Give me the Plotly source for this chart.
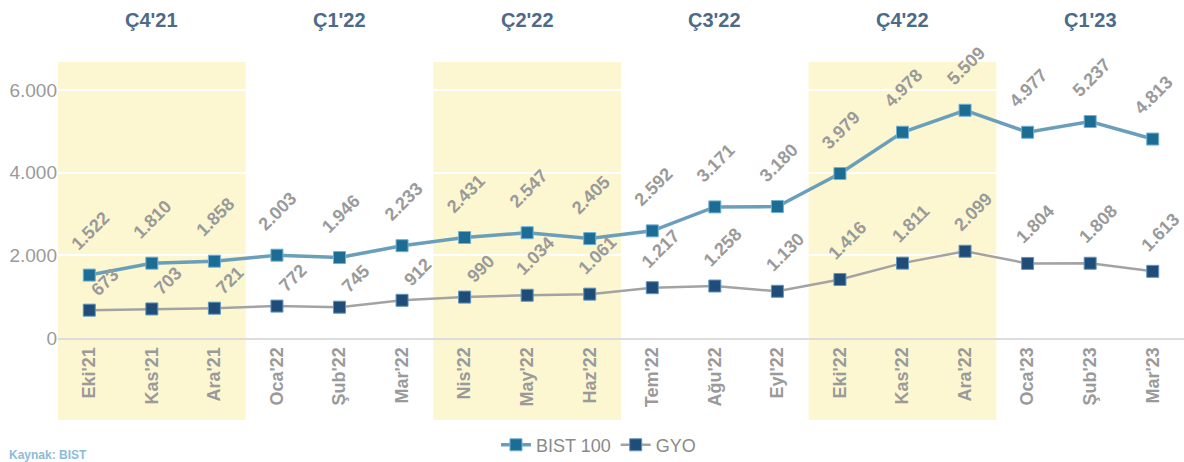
import plotly.graph_objects as go

months = ["Eki'21", "Kas'21", "Ara'21", "Oca'22", "Şub'22", "Mar'22", "Nis'22", "May'22", "Haz'22",
          "Tem'22", "Ağu'22", "Eyl'22", "Eki'22", "Kas'22", "Ara'22", "Oca'23", "Şub'23", "Mar'23"]
bist100 = [1522, 1810, 1858, 2003, 1946, 2233, 2431, 2547, 2405, 2592, 3171, 3180, 3979, 4978, 5509, 4977, 5237, 4813]
gyo = [673, 703, 721, 772, 745, 912, 990, 1034, 1061, 1217, 1258, 1130, 1416, 1811, 2099, 1804, 1808, 1613]
quarters = ["Ç4'21", "Ç1'22", "Ç2'22", "Ç3'22", "Ç4'22", "Ç1'23"]
shaded_quarters = [0, 2, 4]
y_ticks = [0, 2000, 4000, 6000]

FONT = "Arial, Liberation Sans, sans-serif"
GRAY = "#9a9a9a"


def tr(v):
    return f"{v:,}".replace(",", ".")


fig = go.Figure()

fig.add_trace(go.Scatter(
    x=months, y=bist100, name="BIST 100", mode="lines+markers",
    line=dict(color="#6a9fbb", width=3.5),
    marker=dict(symbol="square", size=12, color="#1c6c94", line=dict(color="#6fb0d6", width=1)),
))
fig.add_trace(go.Scatter(
    x=months, y=gyo, name="GYO", mode="lines+markers",
    line=dict(color="#a3a3a3", width=2.5),
    marker=dict(symbol="square", size=12, color="#1f4d78", line=dict(color="#5f95c0", width=1)),
))

shapes = []
for q in shaded_quarters:
    shapes.append(dict(type="rect", xref="x", yref="paper", x0=q * 3 - 0.5, x1=q * 3 + 2.5,
                       y0=-0.297, y1=1.0, fillcolor="#fcf7d0", line=dict(width=0), layer="below"))

label_font = dict(family=FONT, size=18, color=GRAY, weight="bold")
annotations = []
for i, v in enumerate(bist100):
    annotations.append(dict(x=months[i], y=v, xref="x", yref="y", text=tr(v), showarrow=False,
                            textangle=-45, xanchor="center", yanchor="middle", xshift=1, yshift=44,
                            font=label_font))
for i, v in enumerate(gyo):
    short = v < 1000
    annotations.append(dict(x=months[i], y=v, xref="x", yref="y", text=tr(v), showarrow=False,
                            textangle=-45, xanchor="center", yanchor="middle",
                            xshift=16 if short else 8, yshift=28 if short else 39,
                            font=label_font))
for k, q in enumerate(quarters):
    annotations.append(dict(x=months[k * 3 + 1], y=1.152, xref="x", yref="paper", text=q, showarrow=False,
                            xanchor="center", yanchor="middle",
                            font=dict(family=FONT, size=20, color="#4d6a88", weight="bold")))
annotations.append(dict(x=-0.045, y=-0.39, xref="paper", yref="paper", text="Kaynak: BIST", showarrow=False,
                        xanchor="left", yanchor="top",
                        font=dict(family=FONT, size=12, color="#8dbbdb", weight="bold")))

fig.update_layout(
    width=1184, height=462,
    margin=dict(l=58, r=0, t=62, b=124, autoexpand=False),
    plot_bgcolor="white", paper_bgcolor="white",
    shapes=shapes, annotations=annotations,
    showlegend=True,
    legend=dict(orientation="h", x=0.48, xanchor="center", y=-0.388, yanchor="middle",
                font=dict(family=FONT, size=18, color="#8a8a8a"), bgcolor="rgba(0,0,0,0)"),
    xaxis=dict(type="category", range=[-0.5, 17.5], tickangle=-90, showgrid=False, automargin=False,
               showline=True, linecolor="#dcdcdc", linewidth=2, ticks="",
               tickfont=dict(family=FONT, size=18, color=GRAY, weight="bold")),
    yaxis=dict(range=[0, 6677], tickvals=y_ticks, ticktext=[tr(t) for t in y_ticks], automargin=False,
               showgrid=True, gridcolor="white", gridwidth=2, zeroline=False, ticks="",
               tickfont=dict(family=FONT, size=19, color=GRAY)),
)

fig.write_html("out.html", config={"displayModeBar": False},
               post_script="document.body.style.margin='0';document.body.style.overflow='hidden';")
